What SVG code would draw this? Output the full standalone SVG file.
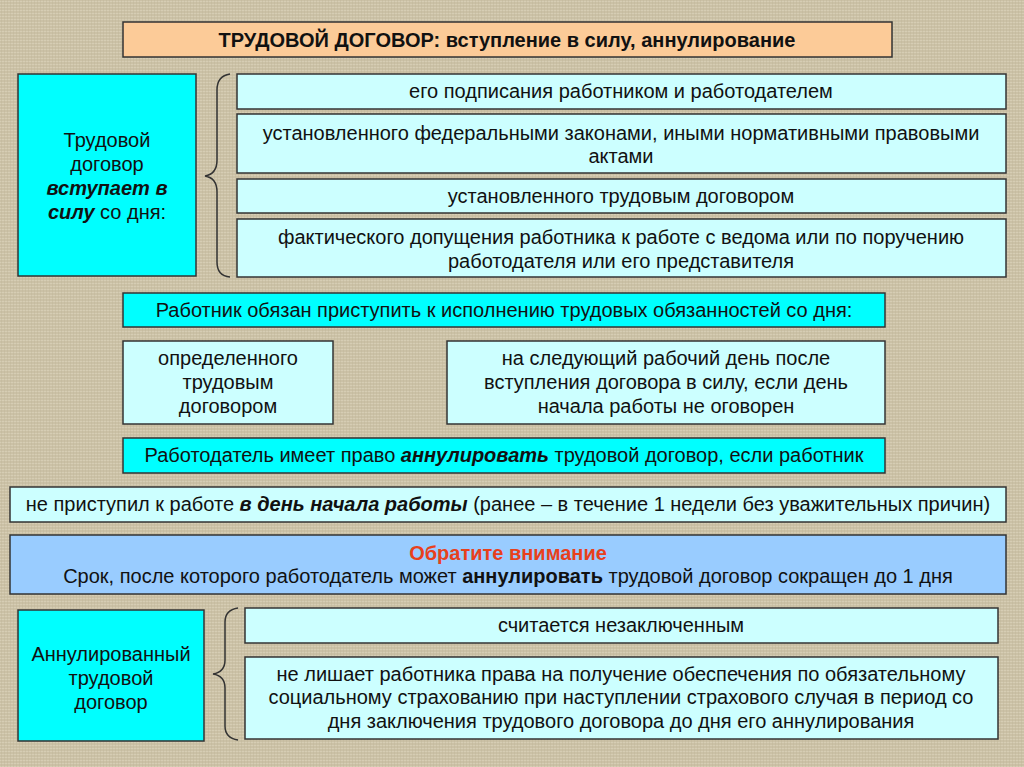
<svg xmlns="http://www.w3.org/2000/svg" width="1024" height="767" viewBox="0 0 1024 767">
<defs>
<pattern id="linen" width="6" height="6" patternUnits="userSpaceOnUse">
<rect width="6" height="6" fill="#CBC1A6"/>
<path d="M0 1.5H6M0 4.5H6" stroke="#D6CDB4" stroke-width="1"/>
<path d="M1.5 0V6M4.5 0V6" stroke="#BFB498" stroke-width="0.7" opacity="0.6"/>
</pattern>
</defs>
<style>
.b{stroke:#333333;stroke-width:1.5}
.cy{fill:#00FFFF}
.lc{fill:#CCFFFF}
.pe{fill:#FCCB98}
.bl{fill:#99CCFF}
text{font-family:"Liberation Sans",Arial,sans-serif;font-size:20px;fill:#111111;text-anchor:middle}
.bo{font-weight:bold}
.it{font-weight:bold;font-style:italic}
.red{fill:#E8401C;font-weight:bold}
.br{fill:none;stroke:#333333;stroke-width:1.5}
</style>
<rect width="1024" height="767" fill="url(#linen)"/>

<g id="title">
<rect class="b pe" x="123" y="22" width="769" height="35"/>
<text x="507" y="47" class="bo">ТРУДОВОЙ ДОГОВОР: вступление в силу, аннулирование</text>
</g>

<g id="enter">
<rect class="b cy" x="18" y="74" width="178" height="202"/>
<text x="107" y="147">Трудовой</text>
<text x="107" y="171">договор</text>
<text x="107" y="195" class="it">вступает в</text>
<text x="107" y="219"><tspan class="it">силу</tspan> со дня:</text>
</g>

<g id="e1">
<rect class="b lc" x="237" y="74" width="769" height="35"/>
<text x="621" y="98">его подписания работником и работодателем</text>
</g>
<g id="e2">
<rect class="b lc" x="237" y="114" width="769" height="59"/>
<text x="621" y="140">установленного федеральными законами, иными нормативными правовыми</text>
<text x="621" y="163">актами</text>
</g>
<g id="e3">
<rect class="b lc" x="237" y="179" width="769" height="34"/>
<text x="621" y="203">установленного трудовым договором</text>
</g>
<g id="e4">
<rect class="b lc" x="237" y="219" width="769" height="58"/>
<text x="621" y="244">фактического допущения работника к работе с ведома или по поручению</text>
<text x="621" y="268">работодателя или его представителя</text>
</g>

<g id="duty">
<rect class="b cy" x="123" y="293" width="762" height="34"/>
<text x="504" y="317">Работник обязан приступить к исполнению трудовых обязанностей со дня:</text>
</g>
<g id="d1">
<rect class="b lc" x="123" y="341" width="210" height="83"/>
<text x="228" y="365">определенного</text>
<text x="228" y="389">трудовым</text>
<text x="228" y="413">договором</text>
</g>
<g id="d2">
<rect class="b lc" x="447" y="341" width="438" height="83"/>
<text x="666" y="365">на следующий рабочий день после</text>
<text x="666" y="389">вступления договора в силу, если день</text>
<text x="666" y="413">начала работы не оговорен</text>
</g>

<g id="annul">
<rect class="b cy" x="123" y="438" width="762" height="35"/>
<text x="504" y="462">Работодатель имеет право <tspan class="it">аннулировать</tspan> трудовой договор, если работник</text>
</g>
<g id="notstart">
<rect class="b lc" x="10" y="487" width="996" height="35"/>
<text x="508" y="511">не приступил к работе <tspan class="it">в день начала работы</tspan> (ранее – в течение 1 недели без уважительных причин)</text>
</g>

<g id="note">
<rect class="b bl" x="10" y="535" width="996" height="59"/>
<text x="508" y="560" class="red">Обратите внимание</text>
<text x="508" y="583">Срок, после которого работодатель может <tspan class="bo">аннулировать</tspan> трудовой договор сокращен до 1 дня</text>
</g>

<g id="annulled">
<rect class="b cy" x="18" y="610" width="186" height="131"/>
<text x="111" y="661">Аннулированный</text>
<text x="111" y="685">трудовой</text>
<text x="111" y="709">договор</text>
</g>
<g id="a1">
<rect class="b lc" x="245" y="608" width="753" height="35"/>
<text x="621" y="632">считается незаключенным</text>
</g>
<g id="a2">
<rect class="b lc" x="245" y="657" width="753" height="82"/>
<text x="621" y="681">не лишает работника права на получение обеспечения по обязательному</text>
<text x="621" y="704">социальному страхованию при наступлении страхового случая в период со</text>
<text x="621" y="728">дня заключения трудового договора до дня его аннулирования</text>
</g>

<g id="connectors">
<path class="br" d="M230 74 Q217 76 217 90 L217 160 Q217 174 205 176 Q217 178 217 192 L217 262 Q217 276 230 277"/>
<path class="br" d="M238 608 Q225 610 225 622 L225 660 Q225 672 213 674 Q225 676 225 688 L225 726 Q225 738 238 740"/>
</g>
</svg>
